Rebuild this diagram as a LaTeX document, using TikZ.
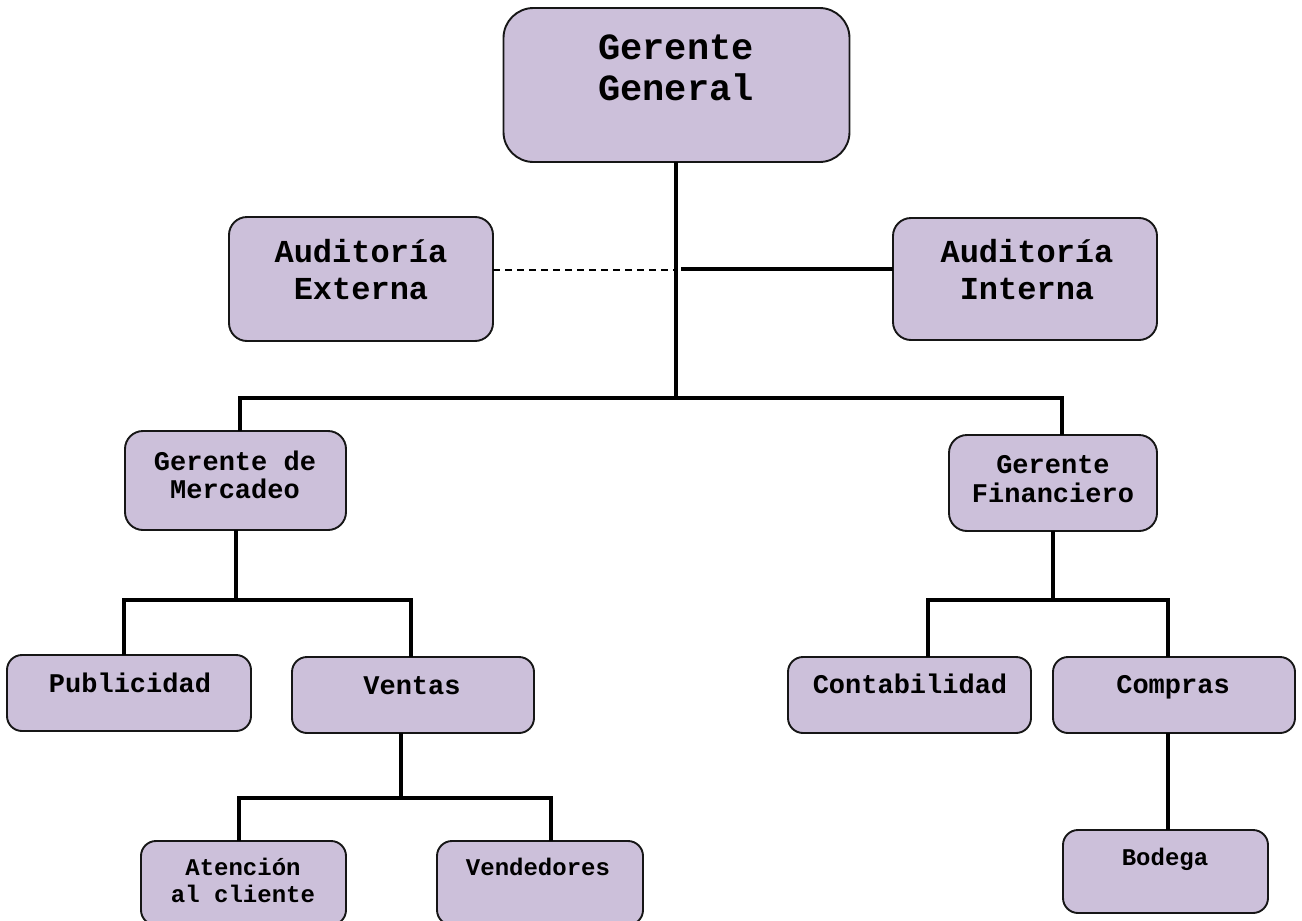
\documentclass[tikz,border=0pt]{standalone}
\usepackage{fontspec}
\setmonofont{Liberation Mono}
\definecolor{boxfill}{HTML}{CCC0DA}
\definecolor{boxline}{HTML}{161616}
\begin{document}
\begin{tikzpicture}[x=1pt,y=-1pt,
  box/.style={draw=boxline, fill=boxfill, line width=1.9pt, rounded corners=18pt, inner sep=0pt, outer sep=0pt},
  conn/.style={draw=black, line width=3.2pt},
  dconn/.style={draw=black, line width=1.5pt, dash pattern=on 7pt off 5pt},
  lab/.style={anchor=base, inner sep=0pt, font=\ttfamily\bfseries},
  fA/.style={font=\ttfamily\bfseries\fontsize{37}{42}\selectfont},
  fB/.style={font=\ttfamily\bfseries\fontsize{32}{37}\selectfont},
  fC/.style={font=\ttfamily\bfseries\fontsize{27}{30}\selectfont},
  fD/.style={font=\ttfamily\bfseries\fontsize{24}{27}\selectfont}]
\useasboundingbox (0,0) rectangle (1302,921);
% boxes
\node[box, rounded corners=30pt, minimum width=346pt, minimum height=154pt] (gg) at (676.5,85) {};
\node[box, minimum width=264pt, minimum height=124pt] (ae) at (361,279) {};
\node[box, minimum width=264pt, minimum height=122pt] (ai) at (1025,279) {};
\node[box, minimum width=221pt, minimum height=99pt] (gm) at (235.5,480.5) {};
\node[box, minimum width=208pt, minimum height=96pt] (gf) at (1053,483) {};
\node[box, rounded corners=15pt, minimum width=244pt, minimum height=76pt] (pub) at (129,693) {};
\node[box, rounded corners=15pt, minimum width=242pt, minimum height=76pt] (ven) at (413,695) {};
\node[box, rounded corners=15pt, minimum width=243pt, minimum height=76pt] (con) at (909.5,695) {};
\node[box, rounded corners=15pt, minimum width=242pt, minimum height=76pt] (com) at (1174,695) {};
\node[box, rounded corners=15pt, minimum width=205pt, minimum height=84pt] (ate) at (243.5,883) {};
\node[box, rounded corners=15pt, minimum width=206pt, minimum height=84pt] (vend) at (540,883) {};
\node[box, rounded corners=15pt, minimum width=205pt, minimum height=83pt] (bod) at (1165.5,871.5) {};
% labels
\node[lab,fA] (gg1) at (676,59) {Gerente};
\node[lab,fA] (gg2) at (676,100) {General};
\node[lab,fB] (ae1) at (361,262) {Auditoría};
\node[lab,fB] (ae2) at (361,299) {Externa};
\node[lab,fB] (ai1) at (1027,262) {Auditoría};
\node[lab,fB] (ai2) at (1027,299) {Interna};
\node[lab,fC] (gm1) at (235,470.5) {Gerente de};
\node[lab,fC] (gm2) at (235,498.5) {Mercadeo};
\node[lab,fC] (gf1) at (1053,473.5) {Gerente};
\node[lab,fC] (gf2) at (1053,502.5) {Financiero};
\node[lab,fC] (pubt) at (130,692.5) {Publicidad};
\node[lab,fC] (vent) at (412,694.5) {Ventas};
\node[lab,fC] (cont) at (910,693.5) {Contabilidad};
\node[lab,fC] (comt) at (1173,693.5) {Compras};
\node[lab,fD] (ate1) at (243,875.5) {Atención};
\node[lab,fD] (ate2) at (243,902.5) {al cliente};
\node[lab,fD] (vendt) at (538,875.5) {Vendedores};
\node[lab,fD] (bodt) at (1165,865.5) {Bodega};
% junction coordinates
\coordinate (j1) at (676,399);
\coordinate (j1l) at (240,398);
\coordinate (j1r) at (1062,398);
\coordinate (d1) at (676,270);
\coordinate (d2) at (681,269);
\coordinate (j2) at (236,601);
\coordinate (j2l) at (124,600);
\coordinate (j2r) at (411,600);
\coordinate (j3) at (1053,601);
\coordinate (j3l) at (928,600);
\coordinate (j3r) at (1168,600);
\coordinate (j4) at (401,799);
\coordinate (j4l) at (239,798);
\coordinate (j4r) at (551,798);
% connectors
\draw[conn] (gg.south -| j1) -- (j1);
\draw[conn] (j1l |- gm.north) |- (j1r) -- (j1r |- gf.north);
\draw[dconn] (ae.east |- d1) -- (d1);
\draw[conn] (d2) -- (d2 -| ai.west);
\draw[conn] (j2 |- gm.south) -- (j2);
\draw[conn] (j2l |- pub.north) |- (j2r) -- (j2r |- ven.north);
\draw[conn] (j3 |- gf.south) -- (j3);
\draw[conn] (j3l |- con.north) |- (j3r) -- (j3r |- com.north);
\draw[conn] (j4 |- ven.south) -- (j4);
\draw[conn] (j4l |- ate.north) |- (j4r) -- (j4r |- vend.north);
\draw[conn] (j3r |- com.south) -- (j3r |- bod.north);
\end{tikzpicture}
\end{document}
